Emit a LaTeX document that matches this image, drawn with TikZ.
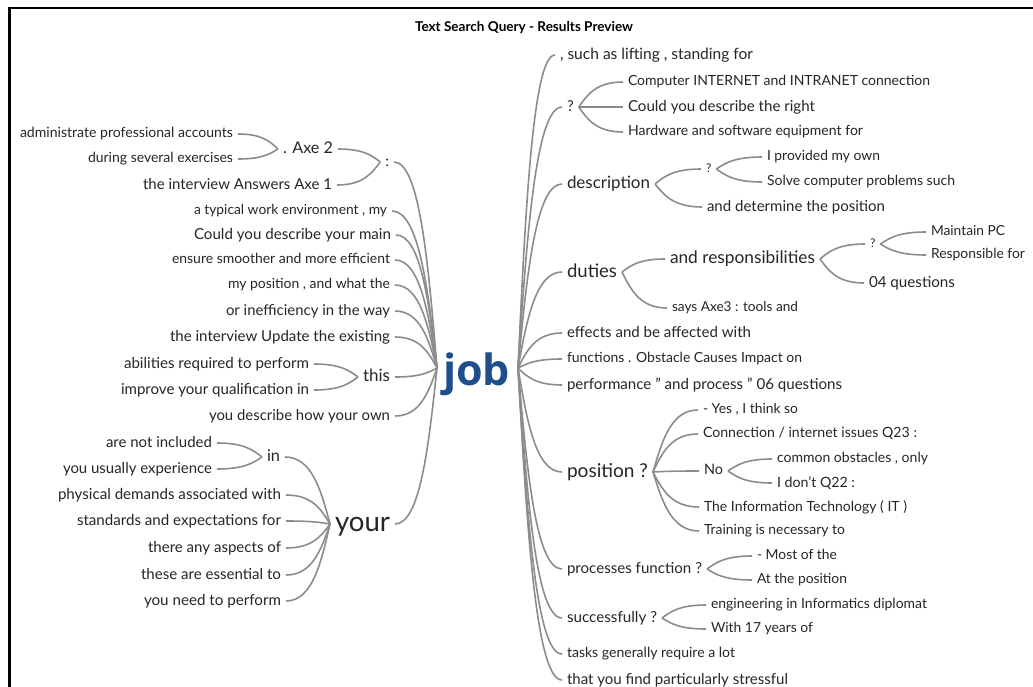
\documentclass[tikz,border=0pt]{standalone}
\usepackage{fontspec}
\setmainfont{Lato}
\newfontfamily\jobfont{Open Sans}
\usetikzlibrary{calc}
\definecolor{txt}{HTML}{262626}
\definecolor{lnkc}{HTML}{8C8C8C}
\definecolor{jobc}{HTML}{1F4E8C}
% text fitted to a given width (in pt)
\newcommand\fw[2]{\setbox0=\hbox{\fontsize{10pt}{12pt}\selectfont #2}%
  \pgfmathsetmacro\fwsize{10*#1/\the\wd0}%
  \fontsize{\fwsize pt}{\fwsize pt}\selectfont #2\vphantom{Ag}}
% text at a given size
\newcommand\fs[2]{\fontsize{#1pt}{#1pt}\selectfont #2\vphantom{Ag}}
% word-tree connector: #1 parent point, #2 child point (horizontal at the child)
\newcommand\lk[2]{\coordinate (lkK) at ($(#1 |- #2)!0.4!(#2)$);%
  \draw[lnk] (#1) .. controls ($(#1)!0.5!(lkK)$) and (lkK) .. (#2);}
\tikzset{
  lt/.style={inner sep=0pt, outer sep=0pt, text=txt, anchor=east, yshift=-2pt},
  rt/.style={inner sep=0pt, outer sep=0pt, text=txt, anchor=west, yshift=-2pt},
  lnk/.style={draw=lnkc, line width=1.6pt},
  frame/.style={draw=black, line width=2.7pt},
}
\begin{document}
\begin{tikzpicture}[x=1pt, y=-1pt]
\fill[white] (0,0) rectangle (1033,687);
\useasboundingbox (0,0) rectangle (1033,687);
\draw[frame] (9.7,687) -- (9.7,8) -- (1033,8);

% title
\node[inner sep=0pt, font=\bfseries, text=black] (title) at (524,28) {\fw{218}{Text Search Query - Results Preview}};

% centre
\node[inner sep=0pt, text=jobc, font=\jobfont\bfseries, anchor=west] (job) at (443,374) {\fw{67}{job}};
\coordinate (jL) at (437,368);
\coordinate (jR) at (518,368);

% left side
\node[lt] (a1) at (233,132) {\fw{213}{administrate professional accounts}};
\node[lt] (a2) at (233,157) {\fw{145}{during several exercises}};
\node[lt] (axe2) at (333,147) {\fw{50}{. Axe 2}};
\node[lt] (col) at (389,160) {\fs{15}{:}};
\node[lt] (ax1) at (332,183) {\fw{189}{the interview Answers Axe 1}};
\node[lt] (l1) at (387,209) {\fw{193}{a typical work environment , my}};
\node[lt] (l2) at (391,233) {\fw{197}{Could you describe your main}};
\node[lt] (l3) at (390,258) {\fw{218}{ensure smoother and more efficient}};
\node[lt] (l4) at (390,283) {\fw{162}{my position , and what the}};
\node[lt] (l5) at (390,309) {\fw{164}{or inefficiency in the way}};
\node[lt] (l6) at (390,335) {\fw{220}{the interview Update the existing}};
\node[lt] (t1) at (309,362) {\fw{185}{abilities required to perform}};
\node[lt] (t2) at (309,388) {\fw{188}{improve your qualification in}};
\node[lt] (thisw) at (390,375) {\fw{27}{this}};
\node[lt] (l7) at (390,414) {\fw{181}{you describe how your own}};
\node[lt] (i1) at (212,441) {\fw{106}{are not included}};
\node[lt] (i2) at (212,467) {\fw{149}{you usually experience}};
\node[lt] (inw) at (280,455) {\fw{13}{in}};
\node[lt] (y1) at (281,493) {\fw{223}{physical demands associated with}};
\node[lt] (y2) at (281,519) {\fw{204}{standards and expectations for}};
\node[lt] (y3) at (281,546) {\fw{133}{there any aspects of}};
\node[lt] (y4) at (281,573) {\fw{140}{these are essential to}};
\node[lt] (y5) at (281,599) {\fw{137}{you need to perform}};
\node[lt] (your) at (390,522) {\fw{55}{your}};

% right side
\node[rt] (r1) at (560,53) {\fw{193}{, such as lifting , standing for}};
\node[rt] (q1) at (567,105) {\fs{15}{?}};
\node[rt] (q1a) at (628,80) {\fw{302}{Computer INTERNET and INTRANET connection}};
\node[rt] (q1b) at (628,105) {\fw{187}{Could you describe the right}};
\node[rt] (q1c) at (628,130) {\fw{235}{Hardware and software equipment for}};
\node[rt] (desc) at (567,182) {\fw{83}{description}};
\node[rt] (q2) at (706,167) {\fs{12}{?}};
\node[rt] (q2a) at (767,155) {\fw{113}{I provided my own}};
\node[rt] (q2b) at (767,180) {\fw{188}{Solve computer problems such}};
\node[rt] (desc2) at (707,205) {\fw{178}{and determine the position}};
\node[rt] (dut) at (567,270) {\fw{50}{duties}};
\node[rt] (resp) at (670,257) {\fw{145}{and responsibilities}};
\node[rt] (q3) at (870,242) {\fs{12}{?}};
\node[rt] (q3a) at (931,230) {\fw{74}{Maintain PC}};
\node[rt] (q3b) at (931,253) {\fw{94}{Responsible for}};
\node[rt] (resp2) at (869,281) {\fw{86}{04 questions}};
\node[rt] (dut2) at (672,306) {\fw{126}{says Axe3 : tools and}};
\node[rt] (r2) at (567,331) {\fw{184}{effects and be affected with}};
\node[rt] (r3) at (567,357) {\fw{235}{functions . Obstacle Causes Impact on}};
\node[rt] (r4) at (567,383) {\fw{275}{performance " and process " 06 questions}};
\node[rt] (p1) at (703,408) {\fw{95}{- Yes , I think so}};
\node[rt] (p2) at (703,432) {\fw{214}{Connection / internet issues Q23 :}};
\node[rt] (pos) at (567,470) {\fw{81}{position ?}};
\node[rt] (no) at (704,469) {\fw{19}{No}};
\node[rt] (n1) at (777,457) {\fw{151}{common obstacles , only}};
\node[rt] (n2) at (777,481) {\fw{78}{I don't Q22 :}};
\node[rt] (p3) at (704,505) {\fw{203}{The Information Technology ( IT )}};
\node[rt] (p4) at (704,529) {\fw{141}{Training is necessary to}};
\node[rt] (pf) at (567,567) {\fw{135}{processes function ?}};
\node[rt] (pf1) at (757,554) {\fw{80}{- Most of the}};
\node[rt] (pf2) at (757,578) {\fw{90}{At the position}};
\node[rt] (suc) at (567,616) {\fw{90}{successfully ?}};
\node[rt] (s1) at (711,603) {\fw{216}{engineering in Informatics diplomat}};
\node[rt] (s2) at (711,627) {\fw{102}{With 17 years of}};
\node[rt] (r5) at (567,652) {\fw{168}{tasks generally require a lot}};
\node[rt] (r6) at (567,678) {\fw{221}{that you find particularly stressful}};

% connection points
\foreach \n in {a1,a2,axe2,col,ax1,l1,l2,l3,l4,l5,l6,l7,t1,t2,thisw,i1,i2,inw,y1,y2,y3,y4,y5,your,
  r1,q1,q1a,q1b,q1c,desc,q2,q2a,q2b,desc2,dut,resp,q3,q3a,q3b,resp2,dut2,r2,r3,r4,p1,p2,pos,no,n1,n2,p3,p4,pf,pf1,pf2,suc,s1,s2,r5,r6}{
  \coordinate (R\n) at ([xshift=5pt]\n.east);
  \coordinate (L\n) at ([xshift=-5pt]\n.west);
}

% left connectors (parent point first)
\lk{Laxe2}{Ra1} \lk{Laxe2}{Ra2}
\lk{Lcol}{Raxe2} \lk{Lcol}{Rax1}
\lk{jL}{Rcol}
\foreach \c in {l1,l2,l3,l4,l5,l6,l7} {\lk{jL}{R\c}}
\lk{Lthisw}{Rt1} \lk{Lthisw}{Rt2} \lk{jL}{Rthisw}
\lk{Linw}{Ri1} \lk{Linw}{Ri2} \lk{Lyour}{Rinw}
\foreach \c in {y1,y2,y3,y4,y5} {\lk{Lyour}{R\c}}
\lk{jL}{Ryour}

% right connectors
\foreach \c in {r1,q1,desc,dut,r2,r3,r4,pos,pf,suc,r5,r6} {\lk{jR}{L\c}}
\lk{Rq1}{Lq1a} \lk{Rq1}{Lq1b} \lk{Rq1}{Lq1c}
\lk{Rdesc}{Lq2} \lk{Rdesc}{Ldesc2}
\lk{Rq2}{Lq2a} \lk{Rq2}{Lq2b}
\lk{Rdut}{Lresp} \lk{Rdut}{Ldut2}
\lk{Rresp}{Lq3} \lk{Rresp}{Lresp2}
\lk{Rq3}{Lq3a} \lk{Rq3}{Lq3b}
\lk{Rpos}{Lp1} \lk{Rpos}{Lp2} \lk{Rpos}{Lno} \lk{Rpos}{Lp3} \lk{Rpos}{Lp4}
\lk{Rno}{Ln1} \lk{Rno}{Ln2}
\lk{Rpf}{Lpf1} \lk{Rpf}{Lpf2}
\lk{Rsuc}{Ls1} \lk{Rsuc}{Ls2}
\end{tikzpicture}
\end{document}
